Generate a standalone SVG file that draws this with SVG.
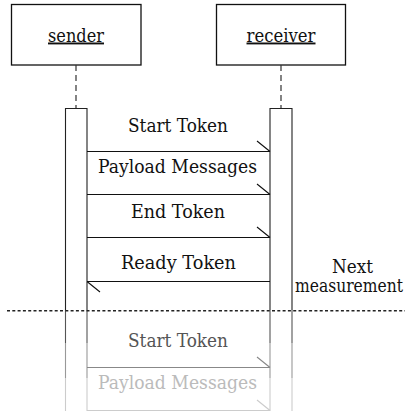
<svg xmlns="http://www.w3.org/2000/svg" width="409" height="413" viewBox="0 0 409 413">
<style>
text{font-family:'DejaVu Serif','Liberation Serif',serif;font-size:19px;text-anchor:middle;fill:#111}
.box{fill:#fff;stroke:#111;stroke-width:1.3}
.life{stroke:#333;stroke-width:1.2;stroke-dasharray:6,4;fill:none}
.msg{stroke:#111;stroke-width:1.1;fill:none}
.u{text-decoration:underline}
</style>
<rect width="409" height="413" fill="#fff"/>
<g id="sender">
  <rect class="box" x="11.5" y="4.5" width="129.5" height="60.5"/>
  <text class="u" x="76" y="41.5" textLength="56" lengthAdjust="spacingAndGlyphs">sender</text>
  <line class="life" x1="76" y1="65" x2="76" y2="108"/>
  <path d="M65.5 310V108.5H87V310" fill="none" stroke="#222" stroke-width="1.1"/>
  <path d="M65.5 310V343M87 310V343" stroke="#555" stroke-width="1.1"/>
  <path d="M65.5 343V378M87 343V378" stroke="#999" stroke-width="1.1"/>
  <path d="M65.5 378V411M87 378V411" stroke="#ccc" stroke-width="1.1"/>
</g>
<g id="receiver">
  <rect class="box" x="216.5" y="4.5" width="129" height="60.5"/>
  <text class="u" x="281" y="41.5" textLength="69" lengthAdjust="spacingAndGlyphs">receiver</text>
  <line class="life" x1="281" y1="65" x2="281" y2="108"/>
  <path d="M270 310V108.5H292V310" fill="none" stroke="#222" stroke-width="1.1"/>
  <path d="M270 310V343M292 310V343" stroke="#555" stroke-width="1.1"/>
  <path d="M270 343V378M292 343V378" stroke="#999" stroke-width="1.1"/>
  <path d="M270 378V411M292 378V411" stroke="#ccc" stroke-width="1.1"/>
</g>
<g id="connectors">
  <g id="m1">
    <text x="178" y="131.5" textLength="100" lengthAdjust="spacingAndGlyphs">Start Token</text>
    <path class="msg" d="M87 151.5H270M257 141L270 151.5"/>
  </g>
  <g id="m2">
    <text x="177.5" y="173" textLength="159" lengthAdjust="spacingAndGlyphs">Payload Messages</text>
    <path class="msg" d="M87 194.5H270M257 184L270 194.5"/>
  </g>
  <g id="m3">
    <text x="178" y="218" textLength="94" lengthAdjust="spacingAndGlyphs">End Token</text>
    <path class="msg" d="M87 237.5H270M257 227L270 237.5"/>
  </g>
  <g id="m4">
    <text x="178.5" y="269" textLength="115" lengthAdjust="spacingAndGlyphs">Ready Token</text>
    <path class="msg" d="M270 281.5H87M100 292L87 281.5"/>
  </g>
  <g id="m5">
    <text x="178" y="347" style="fill:#555" textLength="100" lengthAdjust="spacingAndGlyphs">Start Token</text>
    <path d="M87 367.5H270M257 357L270 367.5" fill="none" stroke="#888" stroke-width="1.1"/>
  </g>
  <g id="m6">
    <text x="177.5" y="388.5" style="fill:#bbb" textLength="159" lengthAdjust="spacingAndGlyphs">Payload Messages</text>
    <path d="M87 410.5H270M257 400L270 410.5" fill="none" stroke="#ccc" stroke-width="1.1"/>
  </g>
</g>
<g id="separator">
  <line x1="7" y1="310.7" x2="405" y2="310.7" stroke="#222" stroke-width="1.4" stroke-dasharray="3,2.3"/>
  <text x="352.5" y="272.5" textLength="41" lengthAdjust="spacingAndGlyphs">Next</text>
  <text x="349" y="292" textLength="108" lengthAdjust="spacingAndGlyphs">measurement</text>
</g>
</svg>
